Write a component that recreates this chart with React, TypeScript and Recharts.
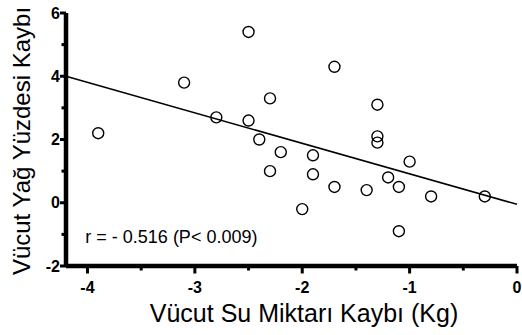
import {
  ScatterChart,
  Scatter,
  XAxis,
  YAxis,
  ReferenceLine,
  ReferenceDot,
} from "recharts";

// body water loss (kg) vs body fat % loss, one entry per subject
const waterLoss = [
  -3.9, -3.1, -2.8, -2.5, -2.5, -2.3, -2.4, -2.3, -2.2, -1.9, -1.9, -2.0,
  -1.7, -1.7, -1.4, -1.3, -1.3, -1.3, -1.2, -1.1, -1.1, -1.0, -0.8, -0.3,
];
const fatLoss = [
  2.2, 3.8, 2.7, 5.4, 2.6, 3.3, 2.0, 1.0, 1.6, 1.5, 0.9, -0.2,
  4.3, 0.5, 0.4, 3.1, 2.1, 1.9, 0.8, 0.5, -0.9, 1.3, 0.2, 0.2,
];

// regression line end points
const fitX = [-4.2, 0];
const fitY = [4.0, -0.05];

const xDomain = [-4.2, 0];
const yDomain = [-2, 6];
const xTicks = [-4, -3.5, -3, -2.5, -2, -1.5, -1, -0.5, 0];
const yTicks = [-2, -1, 0, 1, 2, 3, 4, 5, 6];

const X_TITLE = "Vücut Su Miktarı Kaybı (Kg)";
const Y_TITLE = "Vücut Yağ Yüzdesi Kaybı";
const NOTE = "r = - 0.516 (P< 0.009)";

const FONT = '"Liberation Sans", Arial, Helvetica, sans-serif';

const points = waterLoss.map((x, i) => ({ x, y: fatLoss[i] }));

function XTick({ x, y, payload }: any) {
  const v = payload.value;
  const major = Number.isInteger(v);
  return (
    <g>
      <rect x={x - 1.5} y={y} width={3} height={major ? 7.5 : 4.5} fill="#000" />
      {major && (
        <text
          x={x}
          y={y + 16}
          dy="0.71em"
          textAnchor="middle"
          fontFamily={FONT}
          fontWeight="bold"
          fontSize={16}
          fill="#000"
        >
          {String(v)}
        </text>
      )}
    </g>
  );
}

function YTick({ x, y, payload }: any) {
  const v = payload.value;
  const major = v % 2 === 0;
  const len = major ? 6 : 4.5;
  return (
    <g>
      <rect x={x - len} y={y - 1.5} width={len} height={3} fill="#000" />
      {major && (
        <text
          x={x - 6}
          y={y}
          dy="0.355em"
          textAnchor="end"
          fontFamily={FONT}
          fontWeight="bold"
          fontSize={16}
          fill="#000"
        >
          {String(v)}
        </text>
      )}
    </g>
  );
}

const yTitle = ({ viewBox }: any) => {
  const cx = 30;
  const cy = viewBox.y + viewBox.height / 2 + 1.5;
  return (
    <text
      x={cx}
      y={cy}
      textAnchor="middle"
      transform={`rotate(-90, ${cx}, ${cy})`}
      fontFamily={FONT}
      fontSize={24}
      fill="#000"
    >
      {Y_TITLE}
    </text>
  );
};

const xTitle = ({ viewBox }: any) => (
  <text
    x={viewBox.x + viewBox.width / 2 + 12.5}
    y={viewBox.y + 56}
    textAnchor="middle"
    fontFamily={FONT}
    fontSize={25}
    fill="#000"
  >
    {X_TITLE}
  </text>
);

const noteLabel = ({ viewBox }: any) => (
  <text x={viewBox.x} y={viewBox.y} textAnchor="start" fontFamily={FONT} fontSize={18} fill="#000">
    {NOTE}
  </text>
);

const ring = (props: any) => (
  <circle cx={props.cx} cy={props.cy} r={5.5} fill="none" stroke="#000" strokeWidth={1.4} />
);

const AXIS_LINE = { stroke: "#000", strokeWidth: 4.5 };

export default function App() {
  return (
    <div style={{ position: "absolute", left: 0, top: 0, width: 522, height: 335, background: "#fff", fontFamily: FONT }}>
      <ScatterChart width={522} height={335} margin={{ top: 13, right: 5, left: 0, bottom: 0 }}>
        <XAxis
          type="number"
          dataKey="x"
          domain={xDomain}
          ticks={xTicks}
          interval={0}
          height={69}
          tickSize={0}
          tickMargin={0}
          tickLine={false}
          tick={<XTick />}
          axisLine={AXIS_LINE}
          label={xTitle}
        />
        <YAxis
          type="number"
          dataKey="y"
          domain={yDomain}
          ticks={yTicks}
          interval={0}
          width={66}
          tickSize={0}
          tickMargin={0}
          tickLine={false}
          tick={<YTick />}
          axisLine={AXIS_LINE}
          label={yTitle}
        />
        <ReferenceLine
          segment={[
            { x: fitX[0], y: fitY[0] },
            { x: fitX[1], y: fitY[1] },
          ]}
          stroke="#000"
          strokeWidth={1.6}
          ifOverflow="visible"
        />
        <ReferenceDot x={-4.02} y={-1.27} r={0} fill="none" stroke="none" label={noteLabel} />
        <Scatter data={points} shape={ring} isAnimationActive={false} />
      </ScatterChart>
    </div>
  );
}
